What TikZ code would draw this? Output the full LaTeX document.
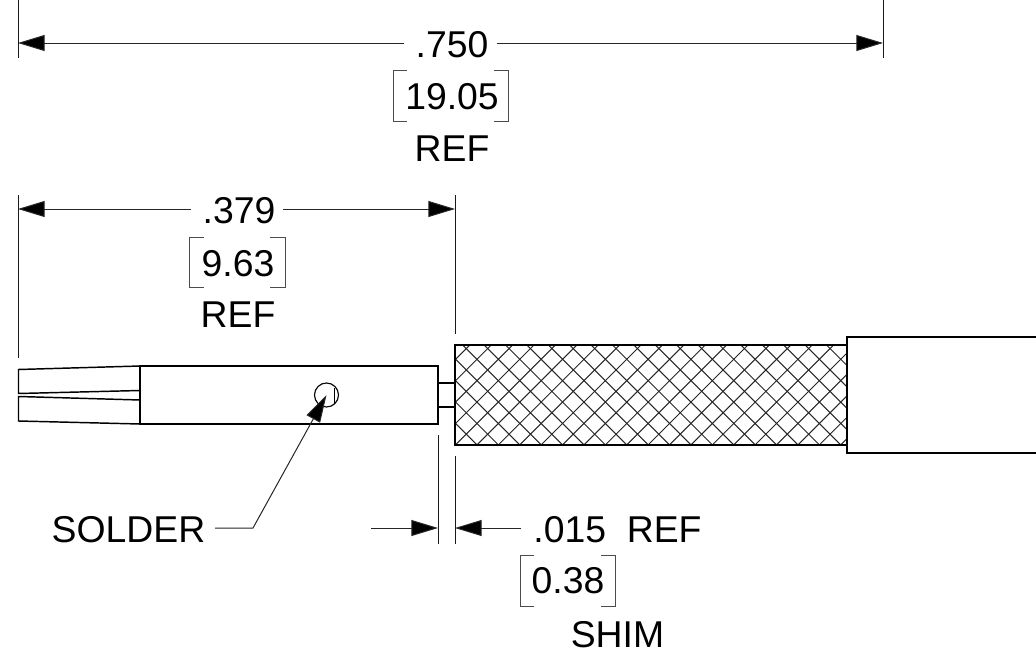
\documentclass[tikz,border=0pt]{standalone}
\usepackage{fontspec}
\setmainfont{Liberation Sans}
\usetikzlibrary{arrows.meta}
\tikzset{
  x=0.75pt,y=-0.75pt,
  lbl/.style={inner sep=0pt,outer sep=0pt,anchor=base,font=\fontsize{28}{28}\selectfont},
  outline/.style={line width=1.1pt,line join=miter},
  thin line/.style={line width=0.75pt,draw=black!90},
  dim/.style={line width=0.75pt,draw=black!85,-{Triangle[length=20pt,width=12pt,fill=black]}},
  hatchline/.style={line width=0.75pt,draw=black!85},
  bracketline/.style={line width=0.75pt,draw=black!70}
}
\begin{document}
\begin{tikzpicture}
\useasboundingbox (0,0) rectangle (1036,653);
% --- labels
\node[lbl] (d750) at (452,57) {.750};
\node[lbl] (m750) at (452,109) {19.05};
\node[lbl] (r750) at (452,161) {REF};
\node[lbl] (d379) at (239,223) {.379};
\node[lbl] (m379) at (238,276.5) {9.63};
\node[lbl] (r379) at (238,327) {REF};
\node[lbl] (solder) at (128.5,542) {SOLDER};
\node[lbl] (d015) at (617.5,542) {.015\ \ REF};
\node[lbl] (m015) at (568,593) {0.38};
\node[lbl] (shim) at (617.5,647) {SHIM};
% --- extension lines
\coordinate (a1) at (18,0);   \coordinate (a2) at (18,58);
\coordinate (b1) at (883,0);  \coordinate (b2) at (883,58);
\coordinate (c1) at (18,195); \coordinate (c2) at (18,358);
\coordinate (e1) at (455,195);\coordinate (e2) at (455,334);
\coordinate (f1) at (438,435);\coordinate (f2) at (438,544);
\coordinate (g1) at (455,456);\coordinate (g2) at (455,544);
\foreach \p/\q in {a1/a2,b1/b2,c1/c2,e1/e2,f1/f2,g1/g2}{\draw[thin line] (\p) -- (\q);}
% --- dimension lines
\coordinate (t1a) at (404,43); \coordinate (t1b) at (18,43);
\coordinate (t2a) at (497,43); \coordinate (t2b) at (883,43);
\coordinate (t3a) at (191,209); \coordinate (t3b) at (18,209);
\coordinate (t4a) at (283,209); \coordinate (t4b) at (455,209);
\coordinate (t5a) at (371,528); \coordinate (t5b) at (438,528);
\coordinate (t6a) at (521,528); \coordinate (t6b) at (455,528);
\foreach \p/\q in {t1a/t1b,t2a/t2b,t3a/t3b,t4a/t4b,t5a/t5b,t6a/t6b}{\draw[dim] (\p) -- (\q);}
% --- brackets
\draw[bracketline] (407,70) -- (393,70) -- (393,121) -- (407,121);
\draw[bracketline] (494,70) -- (508,70) -- (508,121) -- (494,121);
\draw[bracketline] (204,237) -- (189,237) -- (189,287) -- (204,287);
\draw[bracketline] (270,237) -- (285,237) -- (285,287) -- (270,287);
\draw[bracketline] (534,555) -- (520,555) -- (520,606) -- (534,606);
\draw[bracketline] (601,555) -- (615,555) -- (615,606) -- (601,606);
% --- braid
\begin{scope}
\clip (455,345) rectangle (847,445);
\foreach \k in {-3,...,21}{
  \pgfmathsetmacro{\u}{857.6+21.4*\k}
  \draw[hatchline] (\u-345,345) -- (\u-445,445);
}
\foreach \k in {-6,...,18}{
  \pgfmathsetmacro{\v}{117.7+21.4*\k}
  \draw[hatchline] (\v+345,345) -- (\v+445,445);
}
\end{scope}
\draw[outline] (455,345) rectangle (847,445);
% --- jacket
\draw[outline] (1037,337) -- (847,337) -- (847,453) -- (1037,453);
% --- shim
\draw[outline,line width=0.9pt] (438,383) -- (455,383) (438,407) -- (455,407);
% --- contact body
\draw[outline] (140,366) rectangle (438,424);
\draw[outline] (140,366) -- (18.5,369.5) -- (18.5,393.5) -- (140,390.5);
\draw[outline] (140,400) -- (18.5,396.5) -- (18.5,421) -- (140,424);
% --- solder hole
\node[circle,draw,line width=0.85pt,minimum size=18pt,inner sep=0pt] (hole) at (326.5,395) {};
\draw[line width=0.7pt] (334,388) -- (334,404);
% --- solder leader
\coordinate (l1) at (215,528);
\coordinate (l2) at (253,528);
\draw[line width=0.75pt,draw=black!85,-{Triangle[length=20.5pt,width=11.5pt,fill=black]}] (l1) -- (l2) -- (hole.center);
\end{tikzpicture}
\end{document}
